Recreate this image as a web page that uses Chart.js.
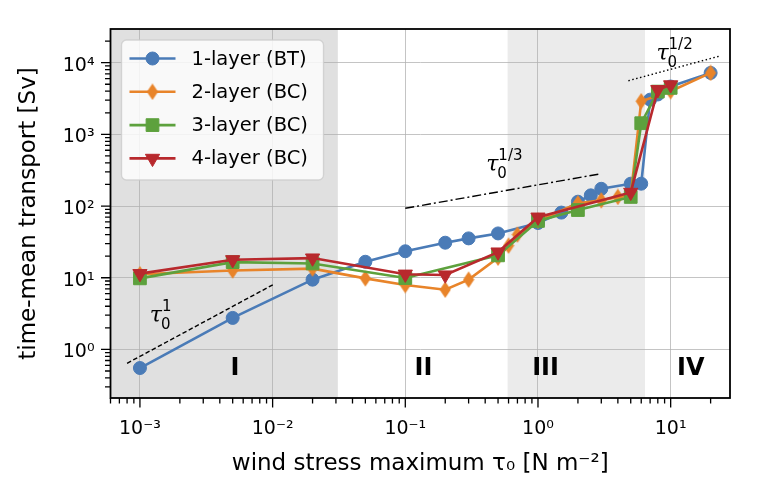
<!DOCTYPE html>
<html>
<head>
<meta charset="utf-8">
<script src="https://cdn.jsdelivr.net/npm/chart.js@4.4.1/dist/chart.umd.min.js"></script>
<style>
  html, body { margin: 0; padding: 0; background: #fff; }
  #chart { display: block; }
</style>
</head>
<body>
<canvas id="chart" width="760" height="499"></canvas>
<script>
// series (wind stress tau0 in N m^-2, transport in Sv)
const seriesNames = ['1-layer (BT)', '2-layer (BC)', '3-layer (BC)', '4-layer (BC)'];
const seriesColors = ['#4a7bb7', '#e8842a', '#5da13d', '#b8292d'];

const tauLayer1 = [0.001, 0.005, 0.02, 0.05, 0.1, 0.2, 0.3, 0.5, 1, 1.5, 2, 2.5, 3, 5, 6, 7, 8, 10, 20];
const transLayer1 = [0.55, 2.75, 9.4, 16.7, 23.4, 30.8, 35.4, 41.5, 58, 81, 115, 141, 174, 205, 205, 3050, 3600, 4650, 7200];

const tauLayer2 = [0.001, 0.005, 0.02, 0.05, 0.1, 0.2, 0.3, 0.5, 0.6, 0.7, 1, 2, 3, 4, 5, 6, 10, 20];
const transLayer2 = [11.2, 12.6, 13.4, 9.8, 7.9, 6.8, 9.4, 19, 28, 40, 62, 109, 120, 134, 140, 2900, 4000, 7200];

const tauLayer3 = [0.001, 0.005, 0.02, 0.1, 0.5, 1, 2, 5, 6, 8, 10];
const transLayer3 = [9.8, 16.5, 15.8, 9.9, 20.5, 62, 88, 134, 1430, 3950, 4450];

const tauLayer4 = [0.001, 0.005, 0.02, 0.1, 0.2, 0.5, 1, 5, 8, 10];
const transLayer4 = [11.4, 17.8, 18.8, 11.2, 10.9, 22.8, 70, 155, 4200, 4900];

// power-law guide lines
const guide1Tau = [0.0008, 0.0102];
const guide1Trans = [0.64, 8.1];
const guide3Tau = [0.1, 3];
const guide3Trans = [93, 283];
const guide2Tau = [4.8, 23.5];
const guide2Trans = [5600, 12400];

// guide labels: tau_0^{exp}
const guideExponents = ['1', '1/3', '1/2'];
const guideLabelTau = [0.00132, 0.453, 8.69];
const guideLabelTrans = [2.71, 351, 12400];

// regimes
const regimeNames = ['I', 'II', 'III', 'IV'];
const regimeLabelTau = [0.0052, 0.137, 1.14, 14.2];
const regimeLabelTrans = 0.53;
const shadedSpans = [[1e-4, 0.031], [0.59, 6.4]];
const shadedFills = ['#e0e0e0', '#ebebeb'];

const xRange = [6e-4, 28];
const yRange = [0.21, 29500];

const SUP = { '-': '\u207B', '0': '\u2070', '1': '\u00B9', '2': '\u00B2', '3': '\u00B3', '4': '\u2074' };
const FONT = "'DejaVu Sans', sans-serif";

function isDecade(v) {
    const l = Math.log10(v);
    return Math.abs(l - Math.round(l)) < 1e-9;
}

function powLabel(v) {
    if (!isDecade(v)) return '';
    const e = String(Math.round(Math.log10(v)));
    return '10' + e.split('').map(c => SUP[c]).join('');
}

function logTicks(scale) {
    const out = [];
    const lo = Math.floor(Math.log10(scale.min));
    const hi = Math.ceil(Math.log10(scale.max));
    for (let e = lo; e <= hi; e++) {
        for (let m = 1; m < 10; m++) {
            const v = m * Math.pow(10, e);
            if (v >= scale.min * 0.9999 && v <= scale.max * 1.0001) out.push({ value: v, major: m === 1 });
        }
    }
    scale.ticks = out;
}

// thin diamond marker like matplotlib 'd'
function thinDiamond(color) {
    const c = document.createElement('canvas');
    c.width = 12; c.height = 17;
    const g = c.getContext('2d');
    g.fillStyle = color;
    g.beginPath();
    g.moveTo(6, 0.3); g.lineTo(11.6, 8.5); g.lineTo(6, 16.7); g.lineTo(0.4, 8.5);
    g.closePath(); g.fill();
    return c;
}

const markers = [
    { pointStyle: 'circle', radius: 6.5, rotation: 0 },
    { pointStyle: thinDiamond(seriesColors[1]), radius: 8, rotation: 0 },
    { pointStyle: 'rect', radius: 9, rotation: 0 },
    { pointStyle: 'triangle', radius: 8.2, rotation: 180 }
];

function pts(xs, ys) { return xs.map((x, i) => ({ x: x, y: ys[i] })); }

const layerData = [
    pts(tauLayer1, transLayer1),
    pts(tauLayer2, transLayer2),
    pts(tauLayer3, transLayer3),
    pts(tauLayer4, transLayer4)
];

const datasets = layerData.map((d, i) => ({
    label: seriesNames[i],
    data: d,
    borderColor: seriesColors[i],
    backgroundColor: seriesColors[i],
    borderWidth: 2.6,
    pointStyle: markers[i].pointStyle,
    pointRadius: markers[i].radius,
    pointRotation: markers[i].rotation,
    pointBorderWidth: 1,
    pointBorderColor: seriesColors[i],
    pointBackgroundColor: seriesColors[i],
    tension: 0,
    order: 3 - i
}));

[[guide1Tau, guide1Trans, [4.5, 2.5]], [guide3Tau, guide3Trans, [9, 3, 2, 3]], [guide2Tau, guide2Trans, [1.5, 2.5]]]
    .forEach(([xs, ys, dash]) => {
        datasets.push({
            label: '',
            data: pts(xs, ys),
            borderColor: '#000',
            borderWidth: 1.4,
            borderDash: dash,
            pointRadius: 0,
            tension: 0,
            order: 10
        });
    });

const decorations = {
    id: 'decorations',
    beforeDraw(chart) {
        const { ctx, chartArea: a, scales: { x } } = chart;
        ctx.save();
        ctx.beginPath();
        ctx.rect(a.left, a.top, a.right - a.left, a.bottom - a.top);
        ctx.clip();
        shadedSpans.forEach((s, i) => {
            const x0 = Math.max(a.left, x.getPixelForValue(s[0]));
            const x1 = Math.min(a.right, x.getPixelForValue(s[1]));
            ctx.fillStyle = shadedFills[i];
            ctx.fillRect(x0, a.top, x1 - x0, a.bottom - a.top);
        });
        ctx.restore();
    },
    afterDatasetsDraw(chart) {
        const { ctx, scales: { x, y } } = chart;
        ctx.save();
        ctx.fillStyle = '#000';
        ctx.textAlign = 'center';
        ctx.textBaseline = 'middle';
        ctx.font = "bold 24px " + FONT;
        regimeNames.forEach((t, i) => {
            ctx.fillText(t, x.getPixelForValue(regimeLabelTau[i]), y.getPixelForValue(regimeLabelTrans));
        });
        guideExponents.forEach((e, i) => {
            const cx = x.getPixelForValue(guideLabelTau[i]);
            const cy = y.getPixelForValue(guideLabelTrans[i]);
            ctx.textAlign = 'center';
            ctx.font = "italic 22px 'DejaVu Serif', serif";
            ctx.fillText('\u03C4', cx, cy - 2);
            ctx.textAlign = 'left';
            ctx.font = "15px " + FONT;
            ctx.fillText('0', cx + 5, cy + 7);
            ctx.fillText(e, cx + 6, cy - 11);
        });
        ctx.restore();
    },
    afterDraw(chart) {
        const { ctx, chartArea: a, scales: { x, y } } = chart;
        ctx.save();
        // tick marks
        ctx.strokeStyle = '#000';
        ctx.lineWidth = 1.3;
        ctx.beginPath();
        x.ticks.forEach(t => {
            const px = x.getPixelForValue(t.value);
            const len = isDecade(t.value) ? 9.5 : 5.5;
            ctx.moveTo(px, a.bottom); ctx.lineTo(px, a.bottom + len);
        });
        y.ticks.forEach(t => {
            const py = y.getPixelForValue(t.value);
            const len = isDecade(t.value) ? 9.5 : 5.5;
            ctx.moveTo(a.left, py); ctx.lineTo(a.left - len, py);
        });
        ctx.stroke();
        // frame
        ctx.lineWidth = 1.8;
        ctx.strokeRect(a.left, a.top, a.right - a.left, a.bottom - a.top);

        // legend
        const lx = a.left + 11, ly = a.top + 11, lw = 202, lh = 140;
        ctx.beginPath();
        ctx.roundRect(lx, ly, lw, lh, 5);
        ctx.fillStyle = 'rgba(255,255,255,0.8)';
        ctx.fill();
        ctx.strokeStyle = 'rgba(204,204,204,0.8)';
        ctx.lineWidth = 1.3;
        ctx.stroke();
        ctx.font = "19.5px " + FONT;
        ctx.textBaseline = 'middle';
        ctx.textAlign = 'left';
        seriesNames.forEach((name, i) => {
            const rowY = ly + 18.5 + i * 33.3;
            ctx.strokeStyle = seriesColors[i];
            ctx.lineWidth = 2.6;
            ctx.beginPath();
            ctx.moveTo(lx + 8, rowY); ctx.lineTo(lx + 54, rowY);
            ctx.stroke();
            ctx.fillStyle = seriesColors[i];
            ctx.strokeStyle = seriesColors[i];
            ctx.lineWidth = 1;
            Chart.helpers.drawPoint(ctx, {
                pointStyle: markers[i].pointStyle,
                radius: markers[i].radius,
                rotation: markers[i].rotation,
                borderWidth: 1
            }, lx + 31, rowY);
            ctx.fillStyle = '#000';
            ctx.fillText(name, lx + 70, rowY + 1);
        });
        ctx.restore();
    }
};

const gridColor = c => (c.tick && isDecade(c.tick.value)) ? 'rgba(176,176,176,0.75)' : 'rgba(0,0,0,0)';

new Chart(document.getElementById('chart'), {
    type: 'line',
    data: { datasets: datasets },
    options: {
        responsive: false,
        animation: false,
        devicePixelRatio: 1,
        layout: { padding: { top: 29, right: 30, left: 0, bottom: 0 } },
        plugins: {
            legend: { display: false },
            tooltip: { enabled: false }
        },
        scales: {
            x: {
                type: 'logarithmic',
                position: 'bottom',
                min: xRange[0],
                max: xRange[1],
                afterBuildTicks: logTicks,
                afterFit: s => { s.height = 101; },
                grid: { color: gridColor, lineWidth: 1, drawTicks: false },
                border: { display: false },
                ticks: {
                    autoSkip: false,
                    maxRotation: 0,
                    minRotation: 0,
                    padding: 20,
                    color: '#000',
                    font: { family: FONT, size: 19 },
                    callback: v => powLabel(v)
                },
                title: {
                    display: true,
                    text: 'wind stress maximum \u03C4\u2080 [N m\u207B\u00B2]',
                    color: '#000',
                    font: { family: FONT, size: 23 },
                    padding: { top: 0, bottom: 21 }
                }
            },
            y: {
                type: 'logarithmic',
                position: 'left',
                min: yRange[0],
                max: yRange[1],
                afterBuildTicks: logTicks,
                afterFit: s => { s.width = 110.5; },
                grid: { color: gridColor, lineWidth: 1, drawTicks: false },
                border: { display: false },
                ticks: {
                    autoSkip: false,
                    padding: 16,
                    labelOffset: 3,
                    color: '#000',
                    font: { family: FONT, size: 19 },
                    callback: v => powLabel(v)
                },
                title: {
                    display: true,
                    text: 'time-mean transport [Sv]',
                    color: '#000',
                    font: { family: FONT, size: 23 },
                    padding: { top: 15, bottom: 0 }
                }
            }
        }
    },
    plugins: [decorations]
});
</script>
</body>
</html>
